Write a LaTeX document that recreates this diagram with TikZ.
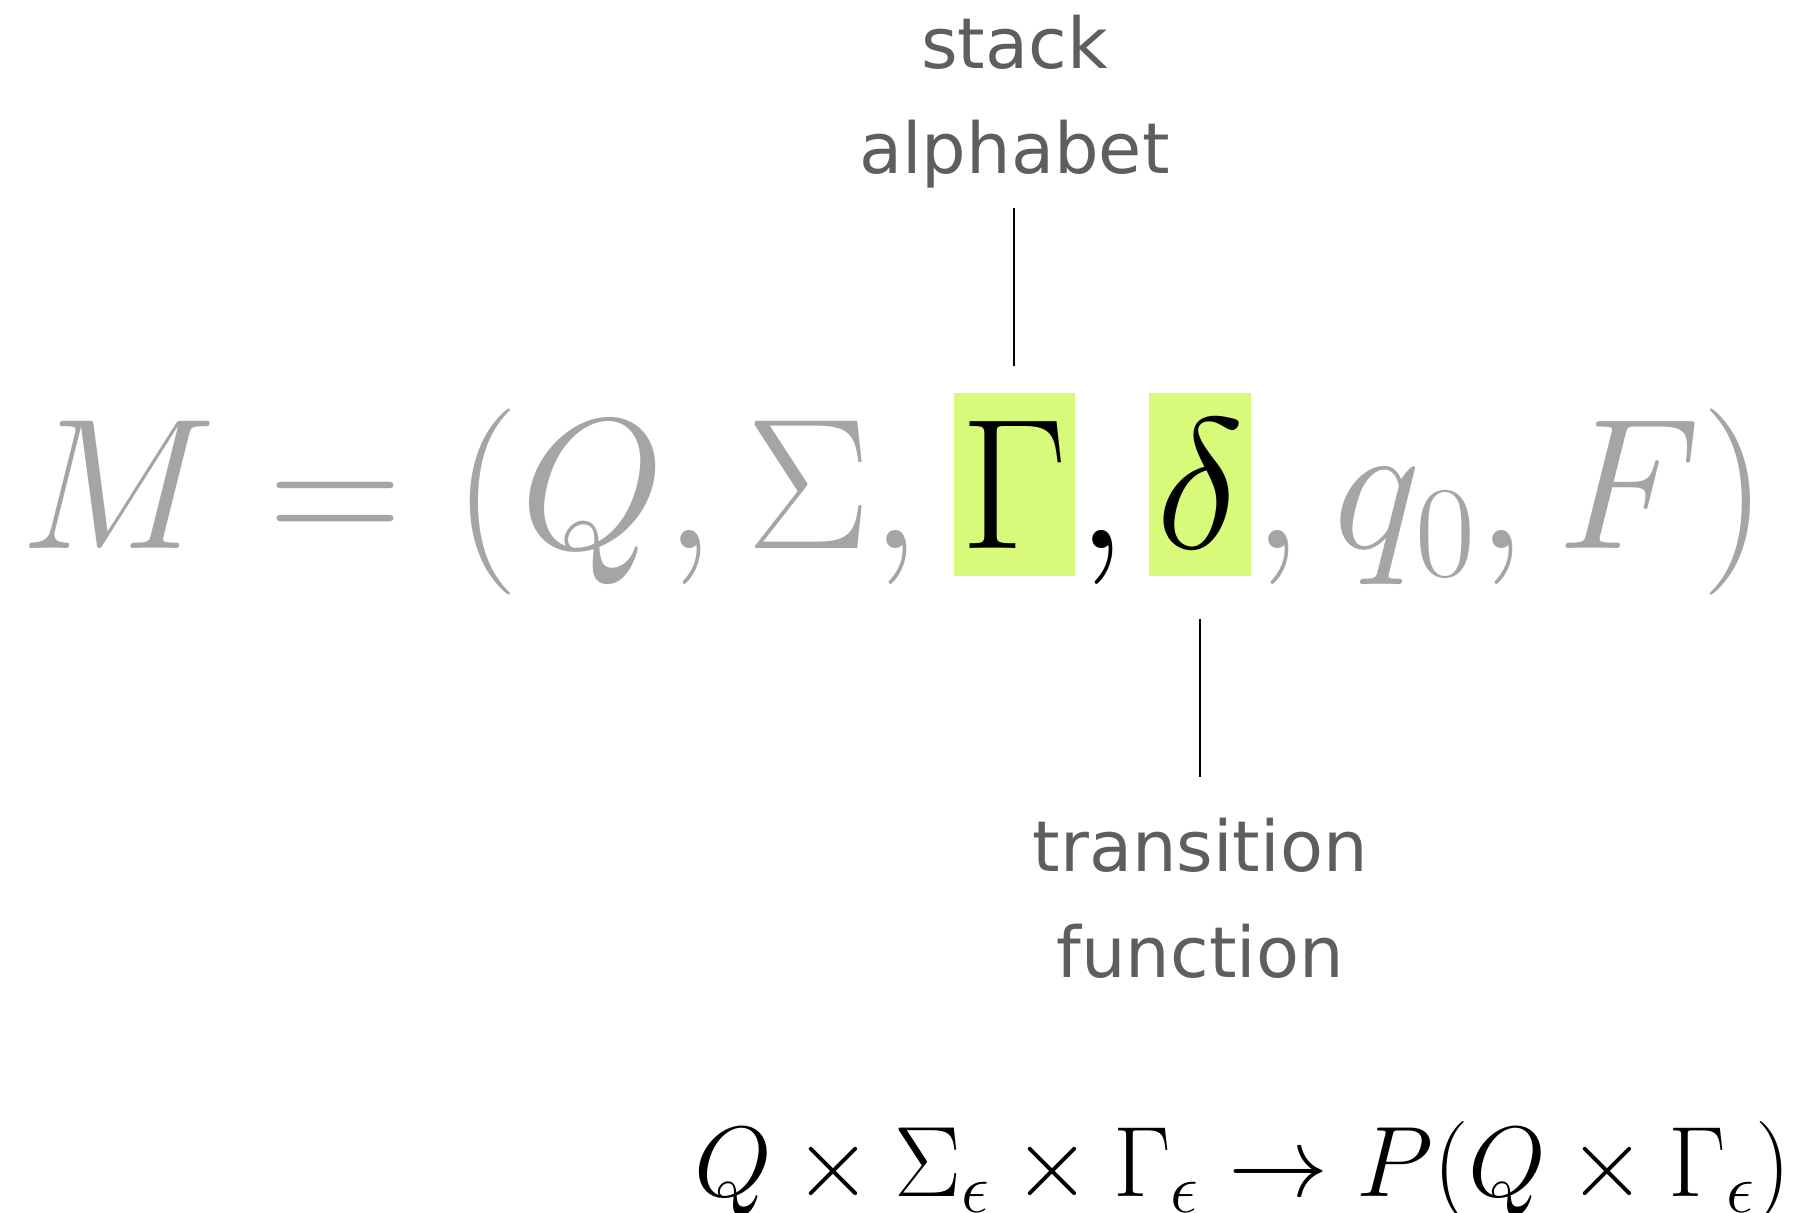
\RequirePackage{fix-cm}
\documentclass[tikz,border=0pt]{standalone}
\usepackage{fontspec}
\setsansfont{DejaVu Sans}
\usepackage{amsmath}
\usetikzlibrary{positioning}
\definecolor{hlgreen}{HTML}{D8FA7A}
\definecolor{fade}{HTML}{A5A5A5}
\definecolor{labelgray}{HTML}{5E5E5E}

\begin{document}
\begin{tikzpicture}[
    tup/.style={inner sep=0pt, text height=15.6mm, text depth=2.7mm, font=\fontsize{53}{60}\selectfont},
    hlbox/.style={tup, fill=hlgreen, inner xsep=0.7mm},
    lbl/.style={inner sep=0pt, align=center, text=labelgray, font=\sffamily\fontsize{20}{30}\selectfont},
    tick/.style={line width=0.6pt}]
  \useasboundingbox (0,0) rectangle (18,-12.13);
  % the tuple, split so the two parts can be marked
  \node[tup, text=fade, anchor=base west] (lhs) at (0.2,-5.49) {$M = (Q, \Sigma,\,$};
  \node[hlbox, right=0pt of lhs] (gam) {$\Gamma$};
  \node[tup, right=0pt of gam] (sep) {$,\mskip2mu$};
  \node[hlbox, right=0pt of sep] (del) {$\delta$};
  \node[tup, text=fade, right=0pt of del] (rhs) {$, q_0, F)$};
  \node[lbl, above=2.03cm of gam] (stk) {stack\\alphabet};
  \node[lbl, below=2.41cm of del] (trn) {transition\\function};
  \draw[tick, shorten <=2.6mm, shorten >=1.9mm] (gam.north) -- (stk.south);
  \draw[tick, shorten <=4.2mm, shorten >=4.1mm] (del.south) -- (trn.north);
  \node[inner sep=0pt, anchor=base east, font=\fontsize{28.5}{34}\selectfont] (sig) at (17.92,-11.97)
    {$Q \times \Sigma_\epsilon \times \Gamma_\epsilon \to P(Q \times \Gamma_\epsilon)$};
\end{tikzpicture}
\end{document}
